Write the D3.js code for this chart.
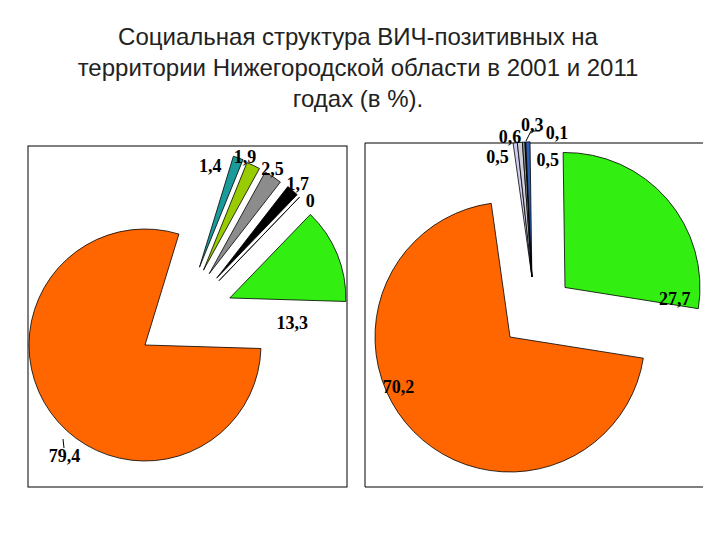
<!DOCTYPE html>
<html>
<head>
<meta charset="utf-8">
<script src="https://cdn.jsdelivr.net/npm/d3@7"></script>
<style>
  body { margin: 0; background: #fff; }
  svg { display: block; }
</style>
</head>
<body>
<svg width="720" height="540"></svg>
<script>
// chart data
let titleLines = ["Социальная структура ВИЧ-позитивных на", "территории Нижегородской области в 2001 и 2011", "годах (в %)."]

let values2001 = [1.4, 1.9, 2.5, 1.7, 0, 13.3, 79.4]
let labels2001 = ["1,4", "1,9", "2,5", "1,7", "0", "13,3", "79,4"]
let colors2001 = ["#1a9a9a", "#99cc00", "#8c8c8c", "#000000", "#ffffff", "#33ee11", "#ff6600"]

let values2011 = [0.5, 0.6, 0.3, 0.1, 0.5, 27.7, 70.2]
let labels2011 = ["0,5", "0,6", "0,3", "0,1", "0,5", "27,7", "70,2"]
let colors2011 = ["#ccccf5", "#d0d0d8", "#9a9a9a", "#000000", "#2a5fb8", "#33ee11", "#ff6600"]

let svg = d3.select("svg")

svg.selectAll("text.title")
  .data(titleLines)
  .enter()
  .append("text")
  .attr("x", 358)
  .attr("y", (d, i) => 45 + i * 31)
  .attr("text-anchor", "middle")
  .attr("font-family", "Liberation Sans, Arial, sans-serif")
  .attr("font-size", 24)
  .attr("fill", "#222")
  .text(d => d)

// frames
svg.append("rect").attr("x", 28).attr("y", 146).attr("width", 319).attr("height", 341)
  .attr("fill", "none").attr("stroke", "#000")
svg.append("path").attr("d", "M703,143 H365 V487 H703")
  .attr("fill", "none").attr("stroke", "#000")

function drawPie(cfg) {
  let rad = Math.PI / 180
  let pie = d3.pie().sort(null).value(d => d)
    .startAngle(cfg.start * rad).endAngle(cfg.start * rad + 2 * Math.PI)
  let arcs = pie(cfg.values)
  let arc = d3.arc().innerRadius(0).outerRadius(cfg.r)
  let g = svg.append("g").attr("transform", "translate(" + cfg.cx + "," + cfg.cy + ")")

  // each slice pulled out by [distance, direction in degrees]
  g.selectAll("path")
    .data(arcs)
    .enter()
    .append("path")
    .attr("d", arc)
    .attr("fill", (d, i) => cfg.colors[i])
    .attr("stroke", "#000")
    .attr("stroke-width", 0.8)
    .attr("transform", function (d, i) {
      let e = cfg.explode[i][0], a = cfg.explode[i][1] * rad
      return "translate(" + (Math.sin(a) * e) + "," + (-Math.cos(a) * e) + ")"
    })

  g.selectAll("text")
    .data(arcs)
    .enter()
    .append("text")
    .attr("x", (d, i) => Math.sin(cfg.labelPos[i][1] * rad) * cfg.labelPos[i][0])
    .attr("y", (d, i) => -Math.cos(cfg.labelPos[i][1] * rad) * cfg.labelPos[i][0])
    .attr("text-anchor", "middle")
    .attr("dominant-baseline", "central")
    .attr("font-family", "Liberation Serif, Times New Roman, serif")
    .attr("font-weight", "bold")
    .attr("font-size", 18)
    .attr("fill", "#000")
    .text((d, i) => cfg.labels[i])
  return g
}

let left = drawPie({
  cx: 145, cy: 345, r: 116, start: 17,
  values: values2001, labels: labels2001, colors: colors2001,
  explode: [[95, 35], [95, 38], [96, 42], [98, 47], [98, 49], [97, 61], [0, 0]],
  labelPos: [[191, 20], [213, 28], [217, 36], [222, 43.5], [219, 49], [149, 81.5], [137, 216]]
})
left.append("line").attr("x1", -82).attr("y1", 94).attr("x2", -81).attr("y2", 103).attr("stroke", "#000")

let right = drawPie({
  cx: 510, cy: 337, r: 135, start: -8,
  values: values2011, labels: labels2011, colors: colors2011,
  explode: [[64, 20], [64, 20], [64, 20], [64, 20], [64, 20], [74, 48], [0, 0]],
  labelPos: [[180, 356], [200, 0], [213, 6], [209, 13], [181, 12], [169, 77], [122, 246]]
})
right.append("polyline").attr("points", "16,-196 21,-206 30,-206")
  .attr("fill", "none").attr("stroke", "#000")
</script>
</body>
</html>
